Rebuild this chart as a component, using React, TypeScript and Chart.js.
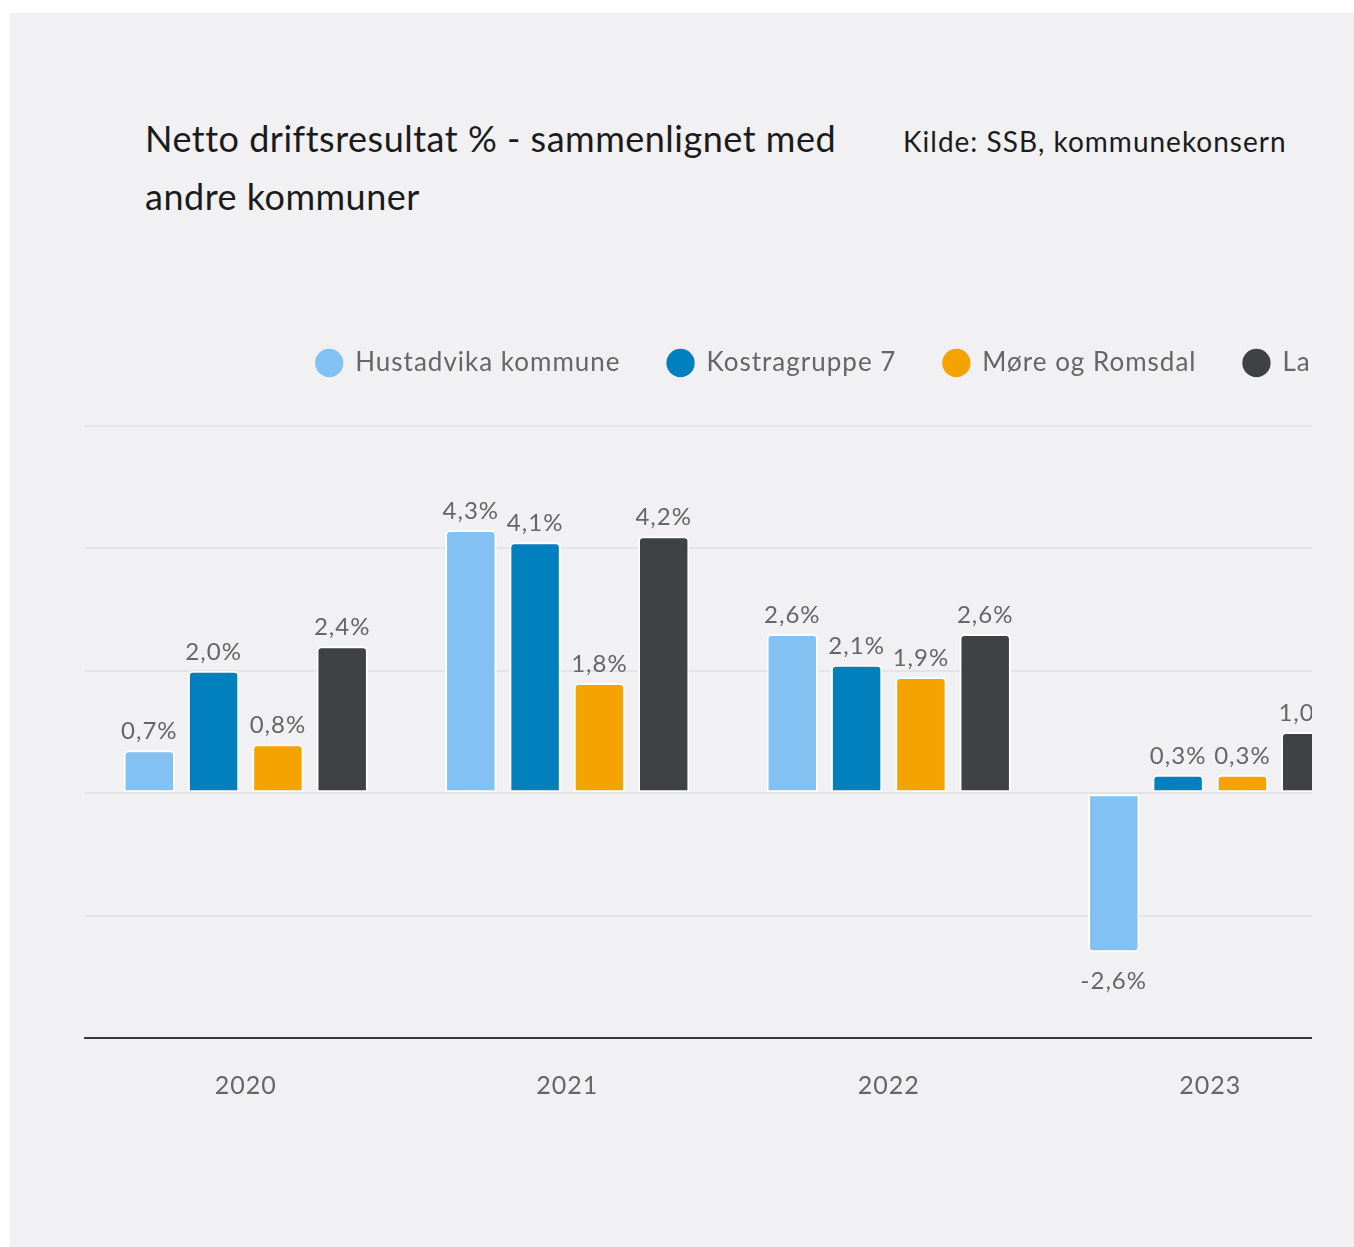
import React, { useEffect, useRef } from 'react';
import { Chart, registerables } from 'chart.js';

Chart.register(...registerables);

const categories = ['2020', '2021', '2022', '2023'];
const seriesNames = ['Hustadvika kommune', 'Kostragruppe 7', 'Møre og Romsdal', 'Landet uten Oslo'];
const hustadvika = [0.7, 4.3, 2.6, -2.6];
const kostragruppe7 = [2.0, 4.1, 2.1, 0.3];
const moreOgRomsdal = [0.8, 1.8, 1.9, 0.3];
const landetUtenOslo = [2.4, 4.2, 2.6, 1.0];
const seriesColors = ['#84C1F3', '#0080BC', '#F5A300', '#3E4244'];
const yMin = -4;
const yMax = 6;
const yStep = 2;

const W = 1716;
const H = 831;
const PLOT_RIGHT = 1361;
const FONT = 'Lato';

const valueLabels = {
  id: 'valueLabels',
  afterInit(chart: any) {
    try {
      chart.ctx.letterSpacing = '1px';
    } catch (e) {}
    const legend = chart.legend;
    if (legend) {
      const orig = legend.fit.bind(legend);
      legend.fit = function () {
        orig();
        this.height += 40;
      };
    }
  },
  afterDatasetsDraw(chart: any) {
    const ctx = chart.ctx;
    ctx.save();
    ctx.font = `24px ${FONT}`;
    ctx.fillStyle = '#666666';
    ctx.textAlign = 'center';
    ctx.textBaseline = 'alphabetic';
    chart.data.datasets.forEach((ds: any, di: number) => {
      const meta = chart.getDatasetMeta(di);
      meta.data.forEach((el: any, i: number) => {
        const v = ds.data[i] as number;
        const txt = v.toFixed(1).replace('.', ',') + '%';
        const y = v >= 0 ? el.y - 11 : el.y + 37;
        ctx.fillText(txt, el.x, y);
      });
    });
    ctx.restore();
  },
};

export default function App() {
  const ref = useRef<HTMLCanvasElement>(null);
  useEffect(() => {
    const series = [hustadvika, kostragruppe7, moreOgRomsdal, landetUtenOslo];
    const chart = new Chart(ref.current as HTMLCanvasElement, {
      type: 'bar',
      data: {
        labels: categories,
        datasets: series.map((d, i) => ({
          label: seriesNames[i],
          data: d,
          backgroundColor: seriesColors[i],
          borderColor: '#ffffff',
          borderWidth: 2,
          borderSkipped: false,
          borderRadius: (c: any) =>
            (c.raw ?? 0) >= 0
              ? { topLeft: 5, topRight: 5, bottomLeft: 0, bottomRight: 0 }
              : { topLeft: 0, topRight: 0, bottomLeft: 5, bottomRight: 5 },
          categoryPercentage: 0.8,
          barPercentage: 0.8,
        })),
      },
      options: {
        responsive: false,
        animation: false,
        devicePixelRatio: 1,
        layout: { padding: { left: 75, right: 0, top: 0, bottom: 0 } },
        font: { family: FONT },
        plugins: {
          tooltip: { enabled: false },
          title: { display: false },
          legend: {
            position: 'top',
            align: 'center',
            labels: {
              usePointStyle: true,
              pointStyle: 'circle',
              boxWidth: 26,
              boxHeight: 20,
              padding: 47,
              color: '#666666',
              font: { family: FONT, size: 26 },
              generateLabels(c: any) {
                const items = (Chart.defaults.plugins.legend.labels as any).generateLabels(c);
                return items.map((it: any) => ({ ...it, lineWidth: 0, strokeStyle: 'rgba(0,0,0,0)' }));
              },
            },
          },
        },
        scales: {
          x: {
            grid: { display: false, drawTicks: false },
            border: { display: true, color: '#3b3b3b', width: 2 },
            ticks: { color: '#666666', padding: 33, font: { family: FONT, size: 25 } },
          },
          y: {
            position: 'right',
            min: yMin,
            max: yMax,
            ticks: { display: false, stepSize: yStep },
            grid: { color: '#e4e4e7', lineWidth: 2, drawTicks: false },
            border: { display: false },
            afterFit(scale: any) {
              scale.width = W - PLOT_RIGHT;
            },
          },
        },
      },
      plugins: [valueLabels],
    } as any);
    return () => chart.destroy();
  }, []);

  return (
    <div
      style={{
        position: 'absolute',
        left: 10,
        top: 13,
        width: 1344,
        height: 1234,
        background: '#f1f1f3',
        overflow: 'hidden',
        fontFamily: FONT,
      }}
    >
      <div
        style={{
          position: 'absolute',
          left: 135,
          top: 96,
          fontSize: 36,
          lineHeight: '58px',
          letterSpacing: '0.5px',
          color: '#1b1b1b',
          whiteSpace: 'nowrap',
        }}
      >
        Netto driftsresultat % - sammenlignet med
        <br />
        andre kommuner
      </div>
      <div
        style={{
          position: 'absolute',
          left: 893,
          top: 114,
          fontSize: 28,
          lineHeight: '28px',
          letterSpacing: '1px',
          color: '#1b1b1b',
          whiteSpace: 'nowrap',
        }}
      >
        Kilde: SSB, kommunekonsern
      </div>
      <div style={{ position: 'absolute', left: 0, top: 290, width: 1302, height: H, overflow: 'hidden' }}>
        <canvas ref={ref} width={W} height={H} style={{ display: 'block', width: W, height: H }} />
      </div>
    </div>
  );
}
